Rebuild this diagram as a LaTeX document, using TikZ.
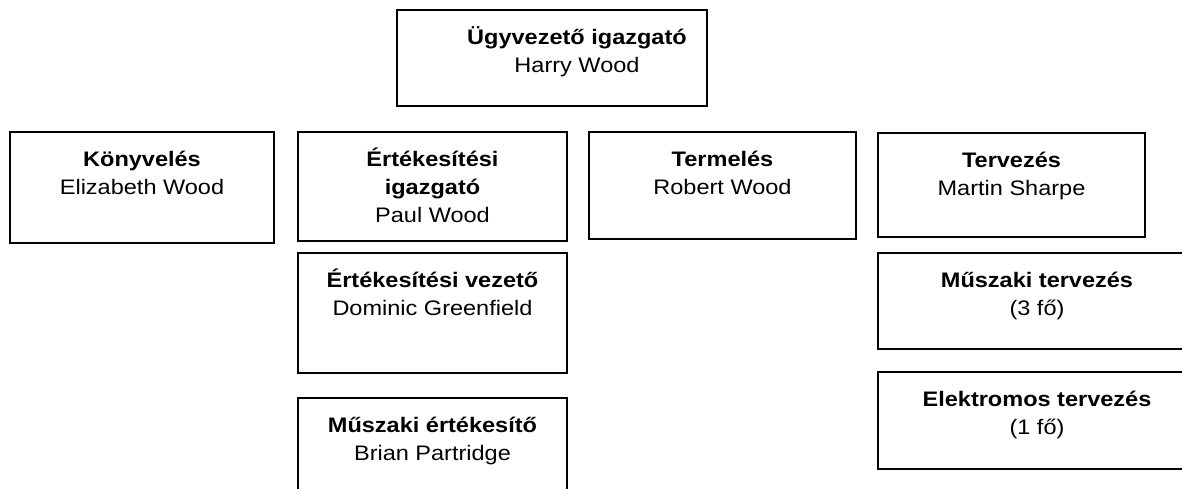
\documentclass[tikz,border=0pt]{standalone}
\usepackage{fontspec}
\setmainfont{Liberation Sans}[FakeStretch=1.12]
\begin{document}
\begin{tikzpicture}[x=1pt,y=-1pt,
  orgbox/.style={draw=black, line width=1.6pt, rectangle, inner sep=0pt},
  orgtext/.style={anchor=north, align=center, inner sep=0pt,
    font=\fontsize{21}{28}\selectfont}]
\useasboundingbox (0,0) rectangle (1182,488);
\clip (0,0) rectangle (1182,488);
\newcommand\st{\rule{0pt}{22pt}}
% boxes
\node[orgbox, minimum width=310pt, minimum height=96pt]  (ceo)  at (552,58) {};
\node[orgbox, minimum width=264pt, minimum height=111pt] (acc)  at (142,187.5) {};
\node[orgbox, minimum width=269pt, minimum height=109pt] (sales) at (432.5,186.5) {};
\node[orgbox, minimum width=267pt, minimum height=107pt] (prod) at (722.5,185.5) {};
\node[orgbox, minimum width=267pt, minimum height=104pt] (des)  at (1011.5,185) {};
\node[orgbox, minimum width=269pt, minimum height=120pt] (smgr) at (432.5,313) {};
\node[orgbox, minimum width=269pt, minimum height=102pt] (tsal) at (432.5,449) {};
\node[orgbox, minimum width=318pt, minimum height=96pt]  (mdes) at (1037,301) {};
\node[orgbox, minimum width=318pt, minimum height=97pt]  (edes) at (1037,420.5) {};
% texts
\node[orgtext] (tceo) at (577,22) {\st\textbf{Ügyvezető igazgató}\\Harry Wood};
\node[orgtext] (tacc) at (142,144) {\st\textbf{Könyvelés}\\Elizabeth Wood};
\node[orgtext] (tsales) at (432.5,144) {\st\textbf{Értékesítési}\\\textbf{igazgató}\\Paul Wood};
\node[orgtext] (tprod) at (722.5,144) {\st\textbf{Termelés}\\Robert Wood};
\node[orgtext] (tdes) at (1011.5,145) {\st\textbf{Tervezés}\\Martin Sharpe};
\node[orgtext] (tsmgr) at (432.5,265) {\st\textbf{Értékesítési vezető}\\Dominic Greenfield};
\node[orgtext] (ttsal) at (432.5,410) {\st\textbf{Műszaki értékesítő}\\Brian Partridge};
\node[orgtext] (tmdes) at (1037,265) {\st\textbf{Műszaki tervezés}\\(3 fő)};
\node[orgtext] (tedes) at (1037,384) {\st\textbf{Elektromos tervezés}\\(1 fő)};
\end{tikzpicture}
\end{document}
